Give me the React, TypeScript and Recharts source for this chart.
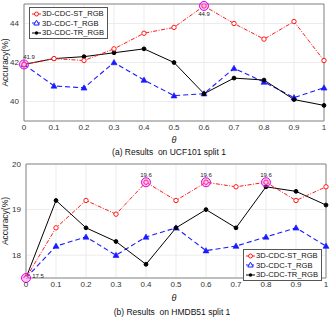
import React from 'react';
import { LineChart, Line, XAxis, YAxis, CartesianGrid, ReferenceArea, ReferenceDot } from 'recharts';

const thetas = [0, 0.1, 0.2, 0.3, 0.4, 0.5, 0.6, 0.7, 0.8, 0.9, 1];
const ucfST = [41.9, 42.2, 42.1, 42.7, 43.5, 43.8, 44.9, 44.0, 43.2, 44.1, 42.1];
const ucfT = [41.9, 40.8, 40.7, 42.0, 41.1, 40.3, 40.4, 41.7, 41.0, 40.2, 40.7];
const ucfTR = [41.9, 42.2, 42.3, 42.5, 42.7, 42.0, 40.4, 41.2, 41.1, 40.1, 39.8];
const hmdbST = [17.5, 18.6, 19.2, 18.9, 19.6, 19.2, 19.6, 19.5, 19.6, 19.2, 19.5];
const hmdbT = [17.5, 18.2, 18.4, 18.0, 18.4, 18.6, 18.1, 18.2, 18.4, 18.6, 18.2];
const hmdbTR = [17.5, 19.2, 18.6, 18.3, 17.8, 18.6, 19.0, 18.6, 19.5, 19.4, 19.1];
const ucfYTicks = [40, 42, 44];
const hmdbYTicks = [18, 19, 20];
const seriesNames = ['3D-CDC-ST_RGB', '3D-CDC-T_RGB', '3D-CDC-TR_RGB'];
const ucfHighlights = [
  { x: 0, y: 41.9, label: '41.9', dx: 5, dy: -7 },
  { x: 0.6, y: 44.9, label: '44.9', dx: 0, dy: 8 },
];
const hmdbHighlights = [
  { x: 0, y: 17.5, label: '17.5', dx: 12, dy: -2 },
  { x: 0.4, y: 19.6, label: '19.6', dx: 0, dy: -7 },
  { x: 0.6, y: 19.6, label: '19.6', dx: 0, dy: -7 },
  { x: 0.8, y: 19.6, label: '19.6', dx: 0, dy: -7 },
];

const FONT = '"Liberation Sans", Arial, sans-serif';
const RED = '#ff1a1a';
const BLUE = '#1a1aff';
const BLACK = '#000000';

const build = (a: number[], b: number[], c: number[]) =>
  thetas.map((t, i) => ({ t, st: a[i], tt: b[i], tr: c[i] }));

const CircleDot = (props: any) => {
  const { cx, cy } = props;
  if (cx == null || cy == null) return null;
  return <circle cx={cx} cy={cy} r={2.2} fill="#fff" stroke={RED} strokeWidth={1} />;
};
const TriDot = (props: any) => {
  const { cx, cy } = props;
  if (cx == null || cy == null) return null;
  const s = 3;
  return (
    <polygon
      points={`${cx},${cy - s} ${cx - s},${cy + s * 0.75} ${cx + s},${cy + s * 0.75}`}
      fill={BLUE}
      stroke={BLUE}
      strokeWidth={0.6}
    />
  );
};
const BlackDot = (props: any) => {
  const { cx, cy } = props;
  if (cx == null || cy == null) return null;
  return <circle cx={cx} cy={cy} r={1.9} fill={BLACK} stroke={BLACK} />;
};

const LegendBox = ({ style }: { style: React.CSSProperties }) => (
  <div
    style={{
      position: 'absolute',
      border: '1px solid #555',
      background: '#fff',
      padding: '1px 3px 0px 2px',
      fontFamily: FONT,
      fontSize: 7.6,
      lineHeight: '9.5px',
      color: '#111',
      ...style,
    }}
  >
    {seriesNames.map((n, i) => (
      <div key={n} style={{ display: 'flex', alignItems: 'center', whiteSpace: 'nowrap', height: 9.5 }}>
        <svg width={9} height={8} style={{ marginRight: 1, flex: 'none' }}>
          <line
            x1={0}
            y1={4}
            x2={9}
            y2={4}
            stroke={[RED, BLUE, BLACK][i]}
            strokeWidth={1}
            strokeDasharray={i === 0 ? '3 1 1 1' : i === 1 ? '3 2' : undefined}
          />
          {i === 0 && <circle cx={4.5} cy={4} r={2} fill="#fff" stroke={RED} />}
          {i === 1 && <polygon points="4.5,1.2 1.8,6 7.2,6" fill="#fff" stroke={BLUE} />}
          {i === 2 && <circle cx={4.5} cy={4} r={1.7} fill={BLACK} />}
        </svg>
        <span>{n}</span>
      </div>
    ))}
  </div>
);

const hlLabel = (text: string, dx: number, dy: number) => (p: any) => {
  const vb = p.viewBox || {};
  const cx = (vb.x ?? 0) + (vb.width ?? 0) / 2;
  const cy = (vb.y ?? 0) + (vb.height ?? 0) / 2;
  return (
    <text x={cx + dx} y={cy + dy} textAnchor="middle" dominantBaseline="middle" fontSize={6} fontFamily={FONT} fill="#222">
      {text}
    </text>
  );
};

const yLabel = (p: any) => {
  const vb = p.viewBox || {};
  const cy = (vb.y ?? 0) + (vb.height ?? 0) / 2;
  return (
    <text
      x={6}
      y={cy}
      transform={`rotate(-90, 6, ${cy})`}
      textAnchor="middle"
      dominantBaseline="middle"
      fontSize={8.5}
      fontFamily={FONT}
      fill="#222"
    >
      Accuracy(%)
    </text>
  );
};

const tickFmt = (v: number) => String(v);

type PanelProps = {
  data: any[];
  domain: [number, number];
  yTicks: number[];
  highlights: typeof ucfHighlights;
  margin: any;
  yWidth: number;
};

const Panel = ({ data, domain, yTicks, highlights, margin, yWidth }: PanelProps) => (
  <LineChart width={333} height={160} data={data} margin={margin}>
    <CartesianGrid stroke="#ececec" strokeWidth={1} />
    <XAxis
      dataKey="t"
      type="number"
      domain={[0, 1]}
      ticks={thetas}
      tickFormatter={tickFmt}
      interval={0}
      tickLine={false}
      tickSize={0}
      axisLine={false}
      tick={{ fontSize: 8, fontFamily: FONT, fill: '#333' }}
      tickMargin={3.5}
      height={20}
    />
    <YAxis
      type="number"
      domain={domain}
      ticks={yTicks}
      allowDataOverflow
      tickLine={false}
      tickSize={0}
      axisLine={false}
      tick={{ fontSize: 8, fontFamily: FONT, fill: '#333' }}
      tickMargin={5}
      width={yWidth}
      label={{ content: yLabel }}
    />
    <ReferenceArea x1={0} x2={1} y1={domain[0]} y2={domain[1]} fill="none" stroke="#888" strokeWidth={1} ifOverflow="visible" />
    <Line dataKey="tt" stroke={BLUE} strokeWidth={1.1} strokeDasharray="5 3" dot={<TriDot />} isAnimationActive={false} />
    <Line dataKey="tr" stroke={BLACK} strokeWidth={1} dot={<BlackDot />} isAnimationActive={false} />
    <Line dataKey="st" stroke={RED} strokeWidth={1} strokeDasharray="4 1.5 1 1.5" dot={<CircleDot />} isAnimationActive={false} />
    {highlights.map((h, i) => (
      <ReferenceDot
        key={i}
        x={h.x}
        y={h.y}
        r={4.5}
        fill="#ff55ff"
        fillOpacity={0.35}
        stroke="#e000e0"
        strokeWidth={1}
        ifOverflow="visible"
        label={{ content: hlLabel(h.label, h.dx, h.dy) }}
      />
    ))}
  </LineChart>
);

const caption: React.CSSProperties = {
  position: 'absolute',
  fontFamily: FONT,
  fontSize: 8.5,
  color: '#111',
  whiteSpace: 'pre',
  transform: 'translate(-50%, -50%)',
};
const thetaStyle: React.CSSProperties = {
  position: 'absolute',
  fontFamily: FONT,
  fontSize: 9,
  fontStyle: 'italic',
  color: '#222',
  transform: 'translate(-50%, -50%)',
};

export default function App() {
  return (
    <div style={{ position: 'absolute', left: 0, top: 0, width: 333, height: 320, background: '#fff' }}>
      <div style={{ position: 'absolute', left: 0, top: 0 }}>
        <Panel
          data={build(ucfST, ucfT, ucfTR)}
          domain={[39, 45]}
          yTicks={ucfYTicks}
          highlights={ucfHighlights}
          margin={{ top: 4, right: 9, left: 0, bottom: 19 }}
          yWidth={24}
        />
      </div>
      <LegendBox style={{ left: 29, top: 7 }} />
      <div style={{ ...thetaStyle, left: 174, top: 140 }}>θ</div>
      <div style={{ ...caption, left: 169, top: 152 }}>(a) Results  on UCF101 split 1</div>
      <div style={{ position: 'absolute', left: 0, top: 160 }}>
        <Panel
          data={build(hmdbST, hmdbT, hmdbTR)}
          domain={[17.5, 20]}
          yTicks={hmdbYTicks}
          highlights={hmdbHighlights}
          margin={{ top: 4, right: 7, left: 0, bottom: 22 }}
          yWidth={26}
        />
      </div>
      <LegendBox style={{ left: 243, top: 249 }} />
      <div style={{ ...thetaStyle, left: 174, top: 298 }}>θ</div>
      <div style={{ ...caption, left: 172, top: 312 }}>(b) Results  on HMDB51 split 1</div>
    </div>
  );
}
